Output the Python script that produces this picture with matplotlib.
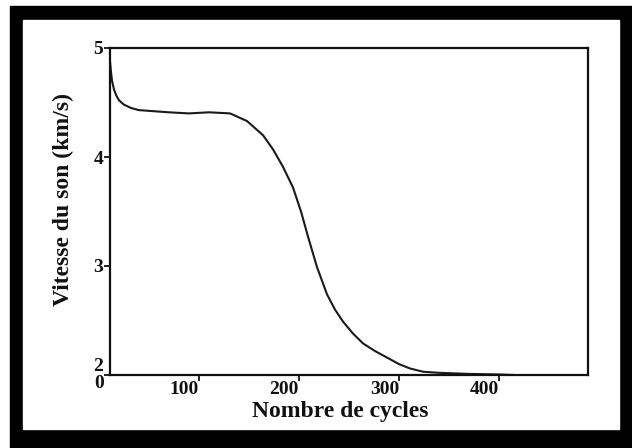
import matplotlib
matplotlib.use("Agg")
import matplotlib.pyplot as plt
from matplotlib.patches import Rectangle

# data
cycles = [11, 12, 13, 15, 17, 20, 25, 32, 40, 55, 70, 90, 110, 131, 148, 164,
          174, 184, 194, 202, 209, 218, 228, 236, 244, 254, 264, 276, 288,
          300, 311, 324, 340, 370, 400, 415]
vitesse = [4.88, 4.78, 4.70, 4.62, 4.57, 4.52, 4.48, 4.45, 4.43, 4.42, 4.41,
           4.40, 4.41, 4.40, 4.33, 4.20, 4.07, 3.91, 3.72, 3.50, 3.27, 2.99,
           2.74, 2.60, 2.49, 2.38, 2.29, 2.22, 2.16, 2.10, 2.06, 2.03, 2.02,
           2.01, 2.005, 2.0]

xticks = [100, 200, 300, 400]
yticks = [2, 3, 4, 5]

W, H = 632, 448
fig = plt.figure(figsize=(W / 100, H / 100), dpi=100)
fig.patch.set_facecolor("white")

# thick black frame around the picture
fig.patches.append(Rectangle((10 / W, 0), 1 - 10 / W, (H - 6) / H,
                             transform=fig.transFigure, color="black", zorder=-2))
fig.patches.append(Rectangle((23 / W, (H - 429) / H), (619 - 23) / W, (429 - 20) / H,
                             transform=fig.transFigure, color="white", zorder=-1))

ax = fig.add_axes([110 / W, (H - 375) / H, 478 / W, 327 / H])
ax.plot(cycles, vitesse, color="#1a1a1a", linewidth=1.5)

ax.set_xlim(11, 489)
ax.set_ylim(2, 5)
for s in ax.spines.values():
    s.set_linewidth(1.6)
    s.set_color("#111111")

font = {"family": "Liberation Serif", "weight": "bold", "color": "#111111"}

ax.set_xticks(xticks)
ax.set_xticklabels([str(v) for v in xticks], fontdict=font, fontsize=14, ha="right")
ax.set_yticks(yticks)
ax.set_yticklabels([str(v) for v in yticks], fontdict=font, fontsize=14)
ax.get_yticklabels()[0].set_va("bottom")
ax.tick_params(axis="x", direction="out", length=4, width=1.2, pad=0)
ax.tick_params(axis="y", direction="out", length=4, width=1.2, pad=1)

ax.text(0, 2, "0", ha="center", va="top", fontdict=font, fontsize=14,
        clip_on=False, transform=ax.transData)

fig.text(340 / W, 1 - 412 / H, "Nombre de cycles", ha="center", va="center",
         fontdict=font, fontsize=17)
fig.text(63 / W, 1 - 200 / H, "Vitesse du son (km/s)", ha="center", va="center",
         rotation=90, fontdict=font, fontsize=17)

fig.savefig("out.png", dpi=100)
